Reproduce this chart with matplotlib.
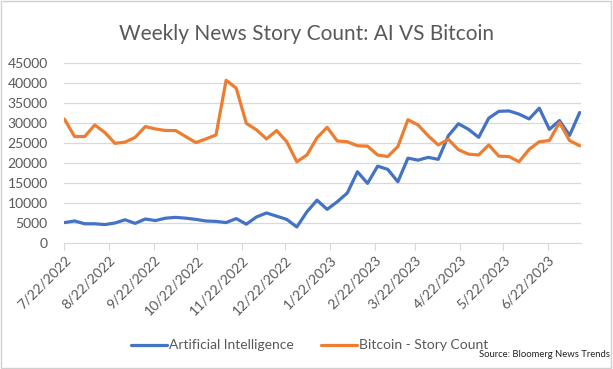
import matplotlib
matplotlib.use("Agg")
import matplotlib.pyplot as plt
import pandas as pd
from matplotlib.patches import Rectangle

# weekly story counts (first week 7/22/2022)
weeks = pd.date_range('2022-07-22', periods=52, freq='7D')
ai_counts = [5100, 5500, 4800, 4800, 4600, 5000, 5800, 4900, 6000, 5600,
             6200, 6400, 6200, 5900, 5500, 5400, 5100, 6100, 4700, 6500,
             7500, 6700, 5900, 4000, 7800, 10700, 8400, 10300, 12500, 17800,
             14900, 19200, 18400, 15300, 21200, 20700, 21400, 20900, 26800, 29800,
             28400, 26400, 31200, 32900, 33000, 32200, 31000, 33700, 28400, 30600,
             26900, 32600]
btc_counts = [30950, 26600, 26600, 29500, 27600, 24900, 25200, 26400, 29100, 28500,
              28100, 28100, 26600, 25100, 26000, 27000, 40650, 38700, 29900, 28300,
              26000, 28100, 25300, 20300, 22000, 26300, 28900, 25500, 25300, 24300,
              24200, 22000, 21600, 24100, 30800, 29500, 26800, 24500, 25900, 23300,
              22200, 22000, 24500, 21700, 21600, 20300, 23400, 25300, 25600, 30100,
              25600, 24300]
tick_labels = ['7/22/2022', '8/22/2022', '9/22/2022', '10/22/2022', '11/22/2022',
               '12/22/2022', '1/22/2023', '2/22/2023', '3/22/2023', '4/22/2023',
               '5/22/2023', '6/22/2023']

plt.rcParams['font.family'] = ['Lato', 'DejaVu Sans']
grey = '#595959'

fig = plt.figure(figsize=(6.13, 3.69), dpi=100)
ax = fig.add_axes([0.1052, 0.3415, 0.8428, 0.488])

ax.plot(weeks, ai_counts, color='#4472C4', lw=2.3, label='Artificial Intelligence',
        solid_joinstyle='round', solid_capstyle='round')
ax.plot(weeks, btc_counts, color='#ED7D31', lw=2.3, label='Bitcoin - Story Count',
        solid_joinstyle='round', solid_capstyle='round')

ax.set_ylim(0, 45000)
ax.set_yticks(range(0, 45001, 5000))
ax.set_xlim(pd.Timestamp('2022-07-22'), pd.Timestamp('2023-07-15'))
ax.grid(axis='y', color='#d9d9d9', lw=0.9)
ax.set_axisbelow(True)
for s in ['top', 'right', 'left']:
    ax.spines[s].set_visible(False)
ax.spines['bottom'].set_color('#d9d9d9')

ax.tick_params(axis='y', length=0, colors=grey, labelsize=10, pad=12)
ax.set_xticks(pd.to_datetime(tick_labels, format='%m/%d/%Y'))
ax.set_xticklabels(tick_labels, rotation=45, ha='right', va='top',
                   rotation_mode='anchor')
ax.tick_params(axis='x', length=5, color='#d9d9d9', labelcolor=grey,
               labelsize=10, pad=3)

fig.text(0.5, 0.908, 'Weekly News Story Count: AI VS Bitcoin', ha='center',
         va='center', fontsize=15, color=grey)
fig.legend(loc='center', bbox_to_anchor=(0.505, 0.064), ncol=2, frameon=False,
           fontsize=10, handlelength=2.6, handletextpad=0.15, columnspacing=1.9,
           labelcolor=grey)
fig.text(0.995, 0.04, 'Source: Bloomerg News Trends', ha='right', va='center',
         fontsize=6.8, color='#222222')

fig.add_artist(Rectangle((0.002, 0.003), 0.995, 0.993, transform=fig.transFigure,
                         fill=False, ec='#d0d0d0', lw=1))

fig.savefig('out.png', dpi=100)
